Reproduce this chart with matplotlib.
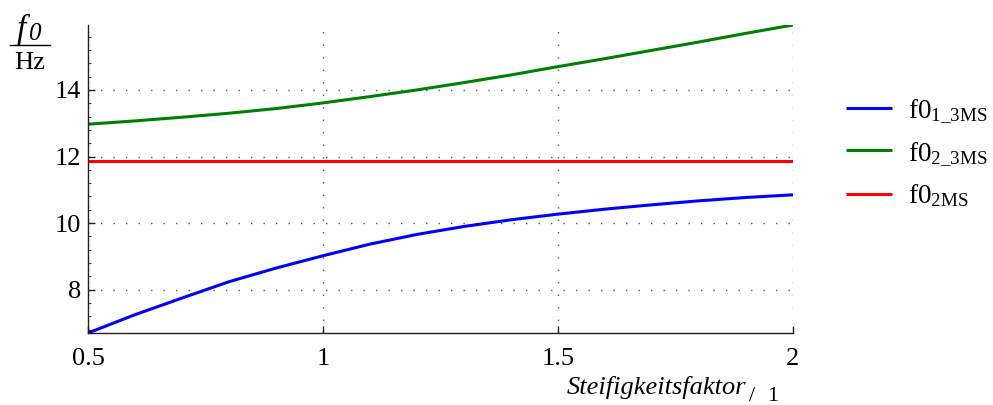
import numpy as np
import matplotlib
matplotlib.use("Agg")
import matplotlib.pyplot as plt
from matplotlib.ticker import MultipleLocator
from matplotlib.lines import Line2D

plt.rcParams['font.family'] = ['Liberation Serif', 'DejaVu Serif']
plt.rcParams['mathtext.fontset'] = 'custom'
plt.rcParams['mathtext.rm'] = 'Liberation Serif'
plt.rcParams['mathtext.it'] = 'Liberation Serif:italic'
plt.rcParams['mathtext.bf'] = 'Liberation Serif:bold'

# data
steifigkeit = [0.5, 0.6, 0.7, 0.8, 0.9, 1.0, 1.1, 1.2, 1.3, 1.4, 1.5, 1.6, 1.7, 1.8, 1.9, 2.0]
f0_1_3MS = [6.70, 7.25, 7.75, 8.24, 8.65, 9.02, 9.37, 9.66, 9.90, 10.10, 10.27, 10.42, 10.55, 10.67, 10.77, 10.85]
f0_2_3MS = [12.97, 13.07, 13.18, 13.30, 13.44, 13.61, 13.80, 14.00, 14.22, 14.45, 14.70, 14.94, 15.19, 15.44, 15.70, 15.95]
f0_2MS = [11.86] * len(steifigkeit)

xticks = [0.5, 1, 1.5, 2]
xticklabels = ['0.5', '1', '1.5', '2']
yticks = [8, 10, 12, 14]
yticklabels = ['8', '10', '12', '14']
labels = [r'$\mathrm{f0}_{\mathrm{1\_3MS}}$', r'$\mathrm{f0}_{\mathrm{2\_3MS}}$', r'$\mathrm{f0}_{\mathrm{2MS}}$']

W, H = 993, 405
fig = plt.figure(figsize=(W / 100, H / 100), dpi=100)
ax = fig.add_axes([88 / W, 1 - 333 / H, (793 - 88) / W, (333 - 25) / H])

l1, = ax.plot(steifigkeit, f0_1_3MS, color=(0, 0, 1), lw=2.2, solid_capstyle='butt')
l2, = ax.plot(steifigkeit, f0_2_3MS, color=(0, 0.5, 0), lw=2.2, solid_capstyle='butt')
l3, = ax.plot(steifigkeit, f0_2MS, color=(1, 0, 0), lw=2.2, solid_capstyle='butt')

ax.set_xlim(0.5, 2.0)
ax.set_ylim(6.70, 15.95)
ax.set_xticks(xticks)
ax.set_xticklabels(xticklabels)
ax.set_yticks(yticks)
ax.set_yticklabels(yticklabels)
ax.yaxis.set_minor_locator(MultipleLocator(0.4))

for s in ['top', 'right']:
    ax.spines[s].set_visible(False)
for s in ['left', 'bottom']:
    ax.spines[s].set_linewidth(1.0)
    ax.spines[s].set_color('#222222')

ax.tick_params(axis='both', which='major', direction='in', length=5, width=1.0,
               labelsize=19, colors='#222222', labelcolor='black')
ax.tick_params(axis='x', which='major', pad=11)
ax.tick_params(axis='y', which='major', pad=5)
ax.tick_params(axis='y', which='minor', direction='in', length=2, width=0.8, color='#444444')

ax.grid(True, which='major', color='#555555', linestyle=(0, (1, 8)), linewidth=1.0)

leg = fig.legend([l1, l2, l3], labels, loc='upper left',
                 bbox_to_anchor=(846 / W, 1 - 97 / H), frameon=False,
                 fontsize=19.5, handlelength=1.7, handletextpad=0.6,
                 labelspacing=0.55, borderaxespad=0, borderpad=0)

# y label as fraction
fig.text(17 / W, 1 - 38 / H, 'f', ha='left', va='baseline', fontsize=24, style='italic')
fig.text(28 / W, 1 - 40 / H, '0', ha='left', va='baseline', fontsize=18, style='italic')
fig.add_artist(Line2D([10 / W, 50 / W], [1 - 45 / H, 1 - 45 / H], color='black', lw=1.0,
                      transform=fig.transFigure))
fig.text(30 / W, 1 - 69 / H, 'Hz', ha='center', va='baseline', fontsize=19)

# x label
fig.text(746 / W, 1 - 394 / H, 'Steifigkeitsfaktor', ha='right', va='baseline',
         fontsize=19, style='italic')
fig.text(749 / W, 1 - 401 / H, '/', ha='left', va='baseline', fontsize=16)
fig.text(767 / W, 1 - 401 / H, '1', ha='left', va='baseline', fontsize=16)

fig.savefig('out.png', dpi=100)
